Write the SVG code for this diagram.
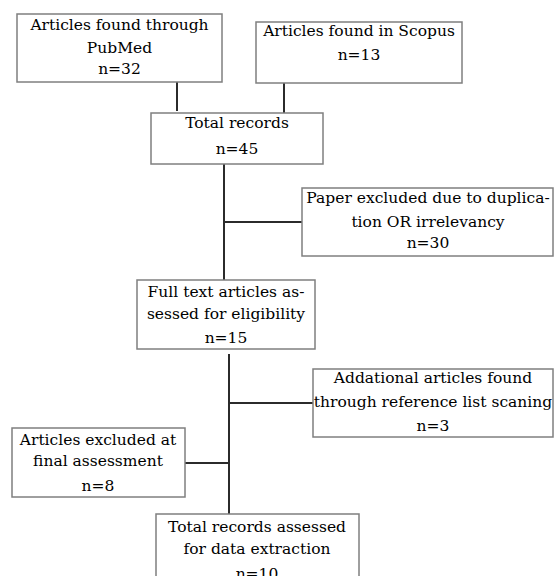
<svg xmlns="http://www.w3.org/2000/svg" width="554" height="576" viewBox="0 0 554 576">
<style>
.box{fill:#fff;stroke:#7f7f7f;stroke-width:1.5}
.t{font-family:"DejaVu Serif","Liberation Serif",serif;font-size:15.5px;fill:#000;text-anchor:middle}
.c{stroke:#2b2b2b;stroke-width:2;fill:none}
</style>
<rect width="554" height="576" fill="#fff"/>
<g id="connectors">
<path class="c" d="M177 82V111"/>
<path class="c" d="M284 83V113"/>
<path class="c" d="M224 164V280"/>
<path class="c" d="M225 222H302"/>
<path class="c" d="M229 354V514"/>
<path class="c" d="M229 403H313"/>
<path class="c" d="M185 463H229"/>
</g>
<g id="pubmed">
<rect class="box" x="17" y="14" width="205" height="68"/>
<text class="t" x="119.5" y="30">Articles found through</text>
<text class="t" x="119.5" y="53">PubMed</text>
<text class="t" x="119.5" y="74">n=32</text>
</g>
<g id="scopus">
<rect class="box" x="256" y="22" width="206" height="61"/>
<text class="t" x="359" y="36">Articles found in Scopus</text>
<text class="t" x="359" y="60">n=13</text>
</g>
<g id="total">
<rect class="box" x="151" y="113" width="172" height="51"/>
<text class="t" x="237" y="128">Total records</text>
<text class="t" x="237" y="154">n=45</text>
</g>
<g id="excluded1">
<rect class="box" x="302" y="188" width="251" height="68"/>
<text class="t" x="428" y="203">Paper excluded due to duplica-</text>
<text class="t" x="428" y="227">tion OR irrelevancy</text>
<text class="t" x="428" y="248">n=30</text>
</g>
<g id="fulltext">
<rect class="box" x="137" y="280" width="178" height="69"/>
<text class="t" x="226" y="297">Full text articles as-</text>
<text class="t" x="226" y="319">sessed for eligibility</text>
<text class="t" x="226" y="343">n=15</text>
</g>
<g id="additional">
<rect class="box" x="313" y="369" width="240" height="68"/>
<text class="t" x="433" y="383">Addational articles found</text>
<text class="t" x="433" y="407">through reference list scaning</text>
<text class="t" x="433" y="431">n=3</text>
</g>
<g id="excluded2">
<rect class="box" x="12" y="428" width="173" height="69"/>
<text class="t" x="98" y="445">Articles excluded at</text>
<text class="t" x="98" y="466">final assessment</text>
<text class="t" x="98" y="491">n=8</text>
</g>
<g id="final">
<rect class="box" x="156" y="514" width="203" height="70"/>
<text class="t" x="257" y="532">Total records assessed</text>
<text class="t" x="257" y="554">for data extraction</text>
<text class="t" x="257" y="579">n=10</text>
</g>
</svg>
